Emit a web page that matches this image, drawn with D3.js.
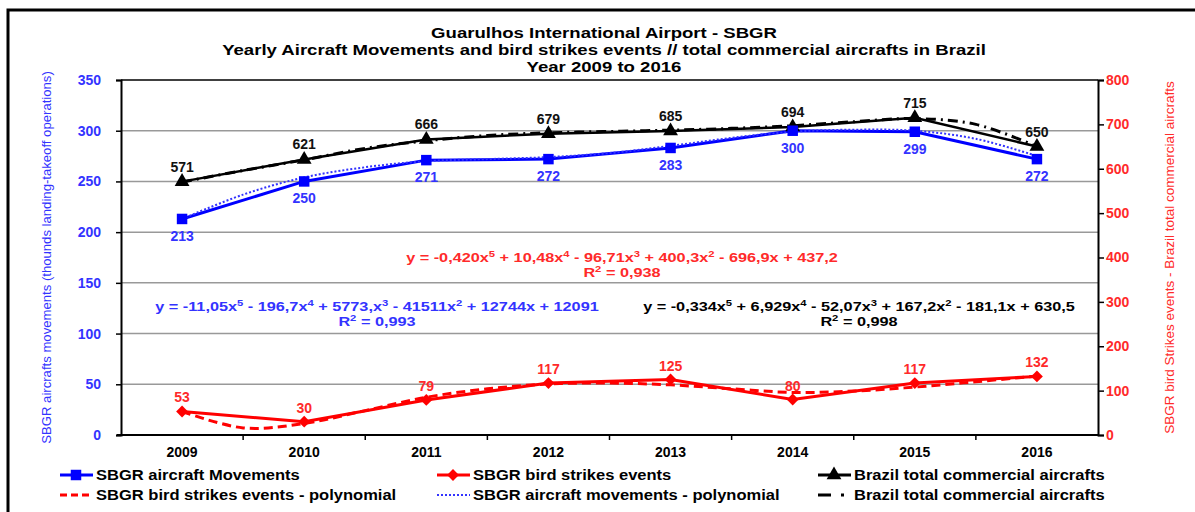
<!DOCTYPE html>
<html>
<head>
<meta charset="utf-8">
<script src="https://cdn.jsdelivr.net/npm/d3@7"></script>
<style>
  body { margin: 0; background: #fff; }
  svg { font-family: "Liberation Sans", Arial, sans-serif; }
</style>
</head>
<body>
<div id="chart"></div>
<script>
// ---- data ----
var years       = ['2009','2010','2011','2012','2013','2014','2015','2016']
var movements   = [213, 250, 271, 272, 283, 300, 299, 272]      // left axis
var birdStrikes = [53, 30, 79, 117, 125, 80, 117, 132]          // right axis
var brazilTotal = [571, 621, 666, 679, 685, 694, 715, 650]      // right axis

// trendlines, read at every half year (index 0 = 2009)
var trendSteps     = [0, 0.5, 1, 1.5, 2, 2.5, 3, 3.5, 4, 4.5, 5, 5.5, 6, 6.5, 7]
var birdTrend      = [53, 16, 26, 55, 85, 104, 115, 117, 113, 104, 96, 99, 108, 120, 133]
var movementTrend  = [213, 237, 254, 264, 270, 272, 274, 278, 285, 293, 299, 301, 300, 292, 275]
var brazilTrend    = [570, 596, 620, 646, 663, 675, 681, 684, 687, 691, 697, 706, 713, 700, 650]

var leftTicks  = [0, 50, 100, 150, 200, 250, 300, 350]
var rightTicks = [0, 100, 200, 300, 400, 500, 600, 700, 800]

var titleLines = ['Guarulhos International Airport - SBGR',
                  'Yearly Aircraft Movements and bird strikes events // total commercial aircrafts in Brazil',
                  'Year 2009 to 2016']

var eqBird     = ['y = -0,420x^5 + 10,48x^4 - 96,71x^3 + 400,3x^2 - 696,9x + 437,2', 'R^2 = 0,938']
var eqMove     = ['y = -11,05x^5 - 196,7x^4 + 5773,x^3 - 41511x^2 + 12744x + 12091', 'R^2 = 0,993']
var eqBrazil   = ['y = -0,334x^5 + 6,929x^4 - 52,07x^3 + 167,2x^2 - 181,1x + 630,5', 'R^2 = 0,998']

// ---- layout ----
var W = 1195, H = 512
var pLeft = 121, pRight = 1098, pTop = 80, pBottom = 435
var BLUE = '#0000ff', BLUE_T = '#3333ff', RED = '#ff0000', RED_T = '#ff2a2a'

var svg = d3.select('#chart').append('svg')
    .attr('width', W)
    .attr('height', H)

// the reference text is drawn wider than Arial: stretch it
function stretch(sel, f) {
    sel.each(function() {
        var len = this.getComputedTextLength()
        d3.select(this).attr('textLength', len * f).attr('lengthAdjust', 'spacingAndGlyphs')
    })
}

// outer frame
svg.append('rect')
    .attr('x', 8).attr('y', 10)
    .attr('width', W + 20).attr('height', H + 20)
    .attr('fill', 'none')
    .attr('stroke', '#000')
    .attr('stroke-width', 3)

// scales
var x  = d3.scaleBand().domain(years).range([pLeft, pRight])
var bw = x.bandwidth()
var xi = d3.scaleLinear().domain([0, 7]).range([x('2009') + bw / 2, x('2016') + bw / 2])
var yL = d3.scaleLinear().domain([0, 350]).range([pBottom, pTop])
var yR = d3.scaleLinear().domain([0, 800]).range([pBottom, pTop])

// gridlines
svg.append('g').selectAll('line')
    .data(leftTicks.filter(d => d > 0 && d < 350))
    .join('line')
    .attr('x1', pLeft).attr('x2', pRight)
    .attr('y1', d => yL(d)).attr('y2', d => yL(d))
    .attr('stroke', '#999').attr('stroke-width', 1.5)

// top border of the plot
svg.append('line')
    .attr('x1', pLeft).attr('x2', pRight)
    .attr('y1', pTop).attr('y2', pTop)
    .attr('stroke', '#000').attr('stroke-width', 1.5)

// left axis
var gL = svg.append('g')
    .attr('transform', `translate(${pLeft},0)`)
    .call(d3.axisLeft(yL).tickValues(leftTicks).tickSize(5).tickPadding(15))
gL.select('.domain').attr('stroke', '#000').attr('stroke-width', 2)
gL.selectAll('.tick line').attr('stroke', '#000').attr('stroke-width', 1.5)
gL.selectAll('.tick text')
    .attr('fill', BLUE_T).attr('font-size', 14).attr('font-weight', 'bold')
    .attr('font-family', '"Liberation Sans", Arial, sans-serif')

// right axis
var gR = svg.append('g')
    .attr('transform', `translate(${pRight},0)`)
    .call(d3.axisRight(yR).tickValues(rightTicks).tickSize(6).tickPadding(2))
gR.select('.domain').attr('stroke', '#000').attr('stroke-width', 2)
gR.selectAll('.tick line').attr('stroke', '#000').attr('stroke-width', 1.5)
gR.selectAll('.tick text')
    .attr('fill', RED_T).attr('font-size', 14).attr('font-weight', 'bold')
    .attr('font-family', '"Liberation Sans", Arial, sans-serif')

// bottom axis: ticks between categories, labels centred
svg.append('line')
    .attr('x1', pLeft - 4).attr('x2', pRight)
    .attr('y1', pBottom).attr('y2', pBottom)
    .attr('stroke', '#000').attr('stroke-width', 2)
svg.append('g').selectAll('line')
    .data(years.slice(1))
    .join('line')
    .attr('x1', d => x(d)).attr('x2', d => x(d))
    .attr('y1', pBottom).attr('y2', pBottom + 5)
    .attr('stroke', '#000').attr('stroke-width', 1.5)
svg.append('g').selectAll('text')
    .data(years)
    .join('text')
    .attr('x', d => x(d) + bw / 2)
    .attr('y', pBottom + 22)
    .attr('text-anchor', 'middle')
    .attr('font-size', 14).attr('font-weight', 'bold')
    .text(d => d)

// axis titles
var tl = svg.append('text')
    .attr('transform', `translate(51,${(pTop + pBottom) / 2}) rotate(-90)`)
    .attr('text-anchor', 'middle')
    .attr('fill', BLUE_T).attr('font-size', 12.5)
    .text('SBGR aircrafts movements (thounds landing-takeoff operations)')
stretch(tl, 1.05)
var tr = svg.append('text')
    .attr('transform', `translate(1174,${(pTop + pBottom) / 2}) rotate(-90)`)
    .attr('text-anchor', 'middle')
    .attr('fill', RED_T).attr('font-size', 12.5)
    .text('SBGR bird Strikes events - Brazil total commercial aircrafts')
stretch(tr, 1.08)

// title
var title = svg.append('g').selectAll('text')
    .data(titleLines)
    .join('text')
    .attr('x', 604)
    .attr('y', (d, i) => 38 + i * 17)
    .attr('text-anchor', 'middle')
    .attr('font-size', 14.5).attr('font-weight', 'bold')
    .text(d => d)
stretch(title, 1.28)

// equations
function equation(lines, cx, cy, color) {
    var g = svg.append('g')
    lines.forEach(function(line, i) {
        var t = g.append('text')
            .attr('x', cx).attr('y', cy + i * 15)
            .attr('text-anchor', 'middle')
            .attr('font-size', 13).attr('font-weight', 'bold')
            .attr('fill', color)
        var shift = 0
        line.split(/(\^\d)/).forEach(function(part) {
            if (part == '') return
            if (part.charAt(0) == '^') {
                t.append('tspan').attr('dy', -5).attr('font-size', 9).text(part.slice(1))
                shift = 5
            } else {
                t.append('tspan').attr('dy', shift).text(part)
                shift = 0
            }
        })
        stretch(t, 1.25)
    })
}
equation(eqBird,   622, 262, RED_T)
equation(eqMove,   377, 311, BLUE_T)
equation(eqBrazil, 859, 311, '#000')

// lines
var lineL = d3.line().x((d, i) => xi(i)).y(d => yL(d))
var lineR = d3.line().x((d, i) => xi(i)).y(d => yR(d))
var trendL = d3.line().x((d, i) => xi(trendSteps[i])).y(d => yL(d)).curve(d3.curveCatmullRom)
var trendR = d3.line().x((d, i) => xi(trendSteps[i])).y(d => yR(d)).curve(d3.curveCatmullRom)

svg.append('path').datum(brazilTotal).attr('d', lineR)
    .attr('fill', 'none').attr('stroke', '#000').attr('stroke-width', 2.5)
svg.append('path').datum(brazilTrend).attr('d', trendR)
    .attr('fill', 'none').attr('stroke', '#000').attr('stroke-width', 3)
    .attr('stroke-dasharray', '10,5,2,5')

svg.append('path').datum(movements).attr('d', lineL)
    .attr('fill', 'none').attr('stroke', BLUE).attr('stroke-width', 3)
svg.append('path').datum(movementTrend).attr('d', trendL)
    .attr('fill', 'none').attr('stroke', BLUE_T).attr('stroke-width', 2)
    .attr('stroke-dasharray', '2,2')

svg.append('path').datum(birdStrikes).attr('d', lineR)
    .attr('fill', 'none').attr('stroke', RED).attr('stroke-width', 3)
svg.append('path').datum(birdTrend).attr('d', trendR)
    .attr('fill', 'none').attr('stroke', RED).attr('stroke-width', 3)
    .attr('stroke-dasharray', '9,5')

// markers (diamond = square turned 45 degrees)
var sq  = d3.symbol().type(d3.symbolSquare).size(110)
var dia = d3.symbol().type(d3.symbolSquare).size(70)
var tri = d3.symbol().type(d3.symbolTriangle).size(95)

svg.append('g').selectAll('path').data(brazilTotal).join('path')
    .attr('d', tri).attr('transform', (d, i) => `translate(${xi(i)},${yR(d)})`)
    .attr('fill', '#000')
svg.append('g').selectAll('path').data(movements).join('path')
    .attr('d', sq).attr('transform', (d, i) => `translate(${xi(i)},${yL(d)})`)
    .attr('fill', BLUE)
svg.append('g').selectAll('path').data(birdStrikes).join('path')
    .attr('d', dia).attr('transform', (d, i) => `translate(${xi(i)},${yR(d)}) rotate(45)`)
    .attr('fill', RED)

// data labels
svg.append('g').selectAll('text').data(brazilTotal).join('text')
    .attr('x', (d, i) => xi(i)).attr('y', d => yR(d) - 10)
    .attr('text-anchor', 'middle').attr('font-size', 14).attr('font-weight', 'bold')
    .attr('fill', '#111').text(d => d)
svg.append('g').selectAll('text').data(movements).join('text')
    .attr('x', (d, i) => xi(i)).attr('y', d => yL(d) + 22)
    .attr('text-anchor', 'middle').attr('font-size', 14).attr('font-weight', 'bold')
    .attr('fill', BLUE_T).text(d => d)
svg.append('g').selectAll('text').data(birdStrikes).join('text')
    .attr('x', (d, i) => xi(i)).attr('y', d => yR(d) - 9)
    .attr('text-anchor', 'middle').attr('font-size', 14).attr('font-weight', 'bold')
    .attr('fill', RED_T).text(d => d)

// legend
var legend = [
    {label: 'SBGR aircraft Movements',                   x: 60,  row: 0, color: BLUE,  dash: null,        mark: sq,  rot: 0},
    {label: 'SBGR bird strikes events',                  x: 437, row: 0, color: RED,   dash: null,        mark: dia, rot: 45},
    {label: 'Brazil total commercial aircrafts',         x: 818, row: 0, color: '#000', dash: null,       mark: tri, rot: 0},
    {label: 'SBGR bird strikes events - polynomial',     x: 60,  row: 1, color: RED,   dash: '7,4',       mark: null},
    {label: 'SBGR aircraft movements - polynomial',      x: 437, row: 1, color: BLUE_T, dash: '2,2',      mark: null},
    {label: 'Brazil total commercial aircrafts',         x: 818, row: 1, color: '#000', dash: '13,10,3,20', mark: null}
]
var lg = svg.append('g').selectAll('g').data(legend).join('g')
    .attr('transform', d => `translate(${d.x},${475 + d.row * 20})`)
lg.append('line')
    .attr('x1', 0).attr('x2', 33).attr('y1', 0).attr('y2', 0)
    .attr('stroke', d => d.color)
    .attr('stroke-width', d => d.dash == '2,2' ? 2 : 3)
    .attr('stroke-dasharray', d => d.dash)
lg.filter(d => d.mark).append('path')
    .attr('d', d => d.mark())
    .attr('transform', d => `translate(16,0) rotate(${d.rot})`)
    .attr('fill', d => d.color)
var lt = lg.append('text')
    .attr('x', 36).attr('y', 5)
    .attr('font-size', 14).attr('font-weight', 'bold')
    .text(d => d.label)
stretch(lt, 1.18)
</script>
</body>
</html>
